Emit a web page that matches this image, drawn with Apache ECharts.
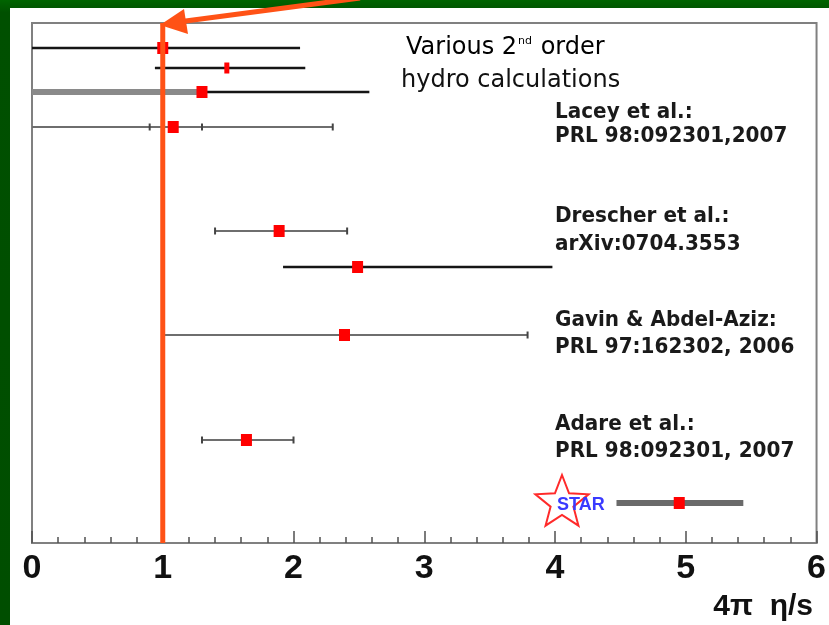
<!DOCTYPE html>
<html>
<head>
<meta charset="utf-8">
<script src="https://cdn.jsdelivr.net/npm/echarts@6/dist/echarts.min.js"></script>
<style>
  html, body { margin: 0; padding: 0; background: #005400; }
  #wrap { position: absolute; left: 0; top: 0; width: 829px; height: 625px;
          background: linear-gradient(#006400, #005000 2%, #004e00); }
  #white { position: absolute; left: 10px; top: 8px; width: 819px; height: 617px; background: #fff; }
  #chart { position: absolute; left: 0; top: 0; width: 829px; height: 625px; }
</style>
</head>
<body>
<div id="wrap"><div id="white"></div><div id="chart"></div></div>
<script>
// ---- data ----
const rows     = ['hydro 1', 'hydro 2', 'hydro 3', 'Lacey', 'Drescher 1', 'Drescher 2', 'Gavin', 'Adare', 'STAR'];
const rowY     = [1.25, 2.25, 3.45, 5.2, 10.4, 12.2, 15.6, 20.85, 24.0];   // row position on hidden y axis
const central  = [1.0, 1.49, 1.3, 1.08, 1.89, 2.49, 2.39, 1.64, 4.95];
const errLow   = [0.0, 0.94, 0.0, 0.0, 1.40, 1.92, 1.0, 1.30, 4.47];
const errHigh  = [2.05, 2.09, 2.58, 2.30, 2.41, 3.98, 3.79, 2.00, 5.44];
const innerRow = [3];            // Lacey inner error bar
const innerLow = [0.9];
const innerHigh= [1.3];
const bandRow  = [2];            // wide gray band on third hydro calc
const bandLow  = [0.0];
const bandHigh = [1.28];
const refValue = 1;              // 4π η/s = 1 bound
const xTicks   = [0, 1, 2, 3, 4, 5, 6];
const refs = [
  ['Lacey et al.:', 'PRL 98:092301,2007'],
  ['Drescher et al.:', 'arXiv:0704.3553'],
  ['Gavin & Abdel-Aziz:', 'PRL 97:162302, 2006'],
  ['Adare et al.:', 'PRL 98:092301, 2007']
];

// ---- styles (kept out of data) ----
const BLACK = '#151515', GRAY = '#6e6e6e';
const rowStyle = [
  {c: BLACK, w: 2.5, caps: []},
  {c: BLACK, w: 2.5, caps: []},
  {c: BLACK, w: 2.5, caps: []},
  {c: GRAY,  w: 2,   caps: [1]},
  {c: GRAY,  w: 2,   caps: [0, 1]},
  {c: BLACK, w: 2.5, caps: []},
  {c: GRAY,  w: 2,   caps: [0, 1]},
  {c: GRAY,  w: 2,   caps: [0, 1]},
  {c: '#6a6a6a', w: 6, caps: []}
];

function barRender(styleFn) {
  return function (params, api) {
    const y = api.value(2);
    const lo = api.coord([api.value(0), y]);
    const hi = api.coord([api.value(1), y]);
    const st = styleFn(params.dataIndex);
    const ch = [{type: 'line', shape: {x1: lo[0], y1: lo[1], x2: hi[0], y2: hi[1]},
                 style: {stroke: st.c, lineWidth: st.w}}];
    st.caps.forEach(function (k) {
      const p = k === 0 ? lo : hi;
      ch.push({type: 'line', shape: {x1: p[0], y1: p[1] - 3.5, x2: p[0], y2: p[1] + 3.5},
               style: {stroke: '#444', lineWidth: 2}});
    });
    return {type: 'group', children: ch};
  };
}

const mainBars = rows.map(function (r, i) { return [errLow[i], errHigh[i], rowY[i]]; });
const innerBars = innerRow.map(function (r, i) { return [innerLow[i], innerHigh[i], rowY[r]]; });
const bands = bandRow.map(function (r, i) { return [bandLow[i], bandHigh[i], rowY[r]]; });
const points = rows.map(function (r, i) { return [central[i], rowY[i]]; });

// star outline for STAR logo
function starPts(cx, cy, R, r) {
  const pts = [];
  for (let k = 0; k < 10; k++) {
    const a = -Math.PI / 2 + k * Math.PI / 5;
    const rad = k % 2 === 0 ? R : r;
    pts.push([cx + rad * Math.cos(a), cy + rad * Math.sin(a)]);
  }
  return pts;
}

const refY = [[112.5, 136.5], [216, 244.5], [320.5, 347], [424.5, 451.5]];
const gText = [];
refs.forEach(function (pair, i) {
  pair.forEach(function (t, j) {
    gText.push({type: 'text', x: 555, y: refY[i][j], scaleY: 1.06, z: 50,
      style: {x: 0, y: 0, text: t, font: 'bold 20px "DejaVu Sans"', fill: '#1a1a1a', textVerticalAlign: 'middle'}});
  });
});

const chart = echarts.init(document.getElementById('chart'), null, {renderer: 'canvas'});
chart.setOption({
  animation: false,
  backgroundColor: 'transparent',
  grid: {left: 32, right: 12, top: 23, bottom: 82, show: true, borderColor: '#808080', borderWidth: 2, backgroundColor: '#fff'},
  xAxis: {
    type: 'value', position: 'bottom', min: xTicks[0], max: xTicks[xTicks.length - 1], interval: 1,
    axisLine: {show: true, onZero: false, lineStyle: {color: '#808080', width: 2}},
    axisTick: {show: true, inside: true, length: 12, lineStyle: {color: '#505050', width: 1.5}},
    minorTick: {show: true, splitNumber: 5, length: 6, lineStyle: {color: '#505050', width: 1.5}},
    splitLine: {show: false},
    axisLabel: {show: true, margin: 9, color: '#111', fontSize: 34, fontWeight: 'bold', fontFamily: 'Liberation Sans',
                formatter: function (v) { return String(v); }}
  },
  yAxis: {type: 'value', min: 0, max: 26, inverse: true, show: false},
  series: [
    {type: 'custom', renderItem: barRender(function (i) { return rowStyle[i]; }), data: mainBars,
     encode: {x: [0, 1], y: 2}, z: 2},
    {type: 'custom', renderItem: barRender(function () { return {c: '#8a8a8a', w: 6, caps: []}; }), data: bands,
     encode: {x: [0, 1], y: 2}, z: 3},
    {type: 'custom', renderItem: barRender(function () { return {c: GRAY, w: 2, caps: [0, 1]}; }), data: innerBars,
     encode: {x: [0, 1], y: 2}, z: 3},
    {type: 'scatter', data: points, symbol: 'rect',
     symbolSize: function (v, p) { return p.dataIndex === 1 ? [5, 11] : [11, 12]; },
     itemStyle: {color: '#ff0000', opacity: 1}, z: 5},
    {type: 'line', data: [[refValue, 0], [refValue, 26]], symbol: 'none',
     lineStyle: {color: '#ff5216', width: 5}, z: 10}
  ],
  graphic: [
    // arrow
    {type: 'line', z: 60, shape: {x1: 360, y1: -2, x2: 178, y2: 22}, style: {stroke: '#ff5216', lineWidth: 5}},
    {type: 'polygon', z: 60, shape: {points: [[160, 25], [184, 9], [188, 34]]}, style: {fill: '#ff5216'}},
    // hydro text
    {type: 'text', x: 406, y: 48, z: 50, style: {
      x: 0, y: 0, text: '{a|Various 2}{s|nd}{a| order}', textVerticalAlign: 'middle',
      rich: {a: {fontFamily: 'DejaVu Sans', fontSize: 24, color: '#111'},
             s: {fontFamily: 'DejaVu Sans', fontSize: 11, color: '#111', verticalAlign: 'top', padding: [0, 1, 10, 1]}}}},
    {type: 'text', x: 401, y: 81, z: 50, style: {
      x: 0, y: 0, text: 'hydro calculations', font: '24px "DejaVu Sans"', fill: '#111', textVerticalAlign: 'middle'}},
    // axis title
    {type: 'text', right: 16, top: 592, z: 50, style: {
      text: '4π  η/s', font: 'bold 30px "Liberation Sans"', fill: '#111', textVerticalAlign: 'top'}},
    // STAR logo
    {type: 'polygon', z: 50, shape: {points: starPts(562, 503, 28, 12)}, style: {fill: 'none', stroke: '#ff2a2a', lineWidth: 2}},
    {type: 'text', x: 557, y: 505, z: 51, style: {
      x: 0, y: 0, text: 'STAR', font: 'bold 18px "Liberation Sans"', fill: '#3a3aff', textVerticalAlign: 'middle'}}
  ].concat(gText)
});
</script>
</body>
</html>
